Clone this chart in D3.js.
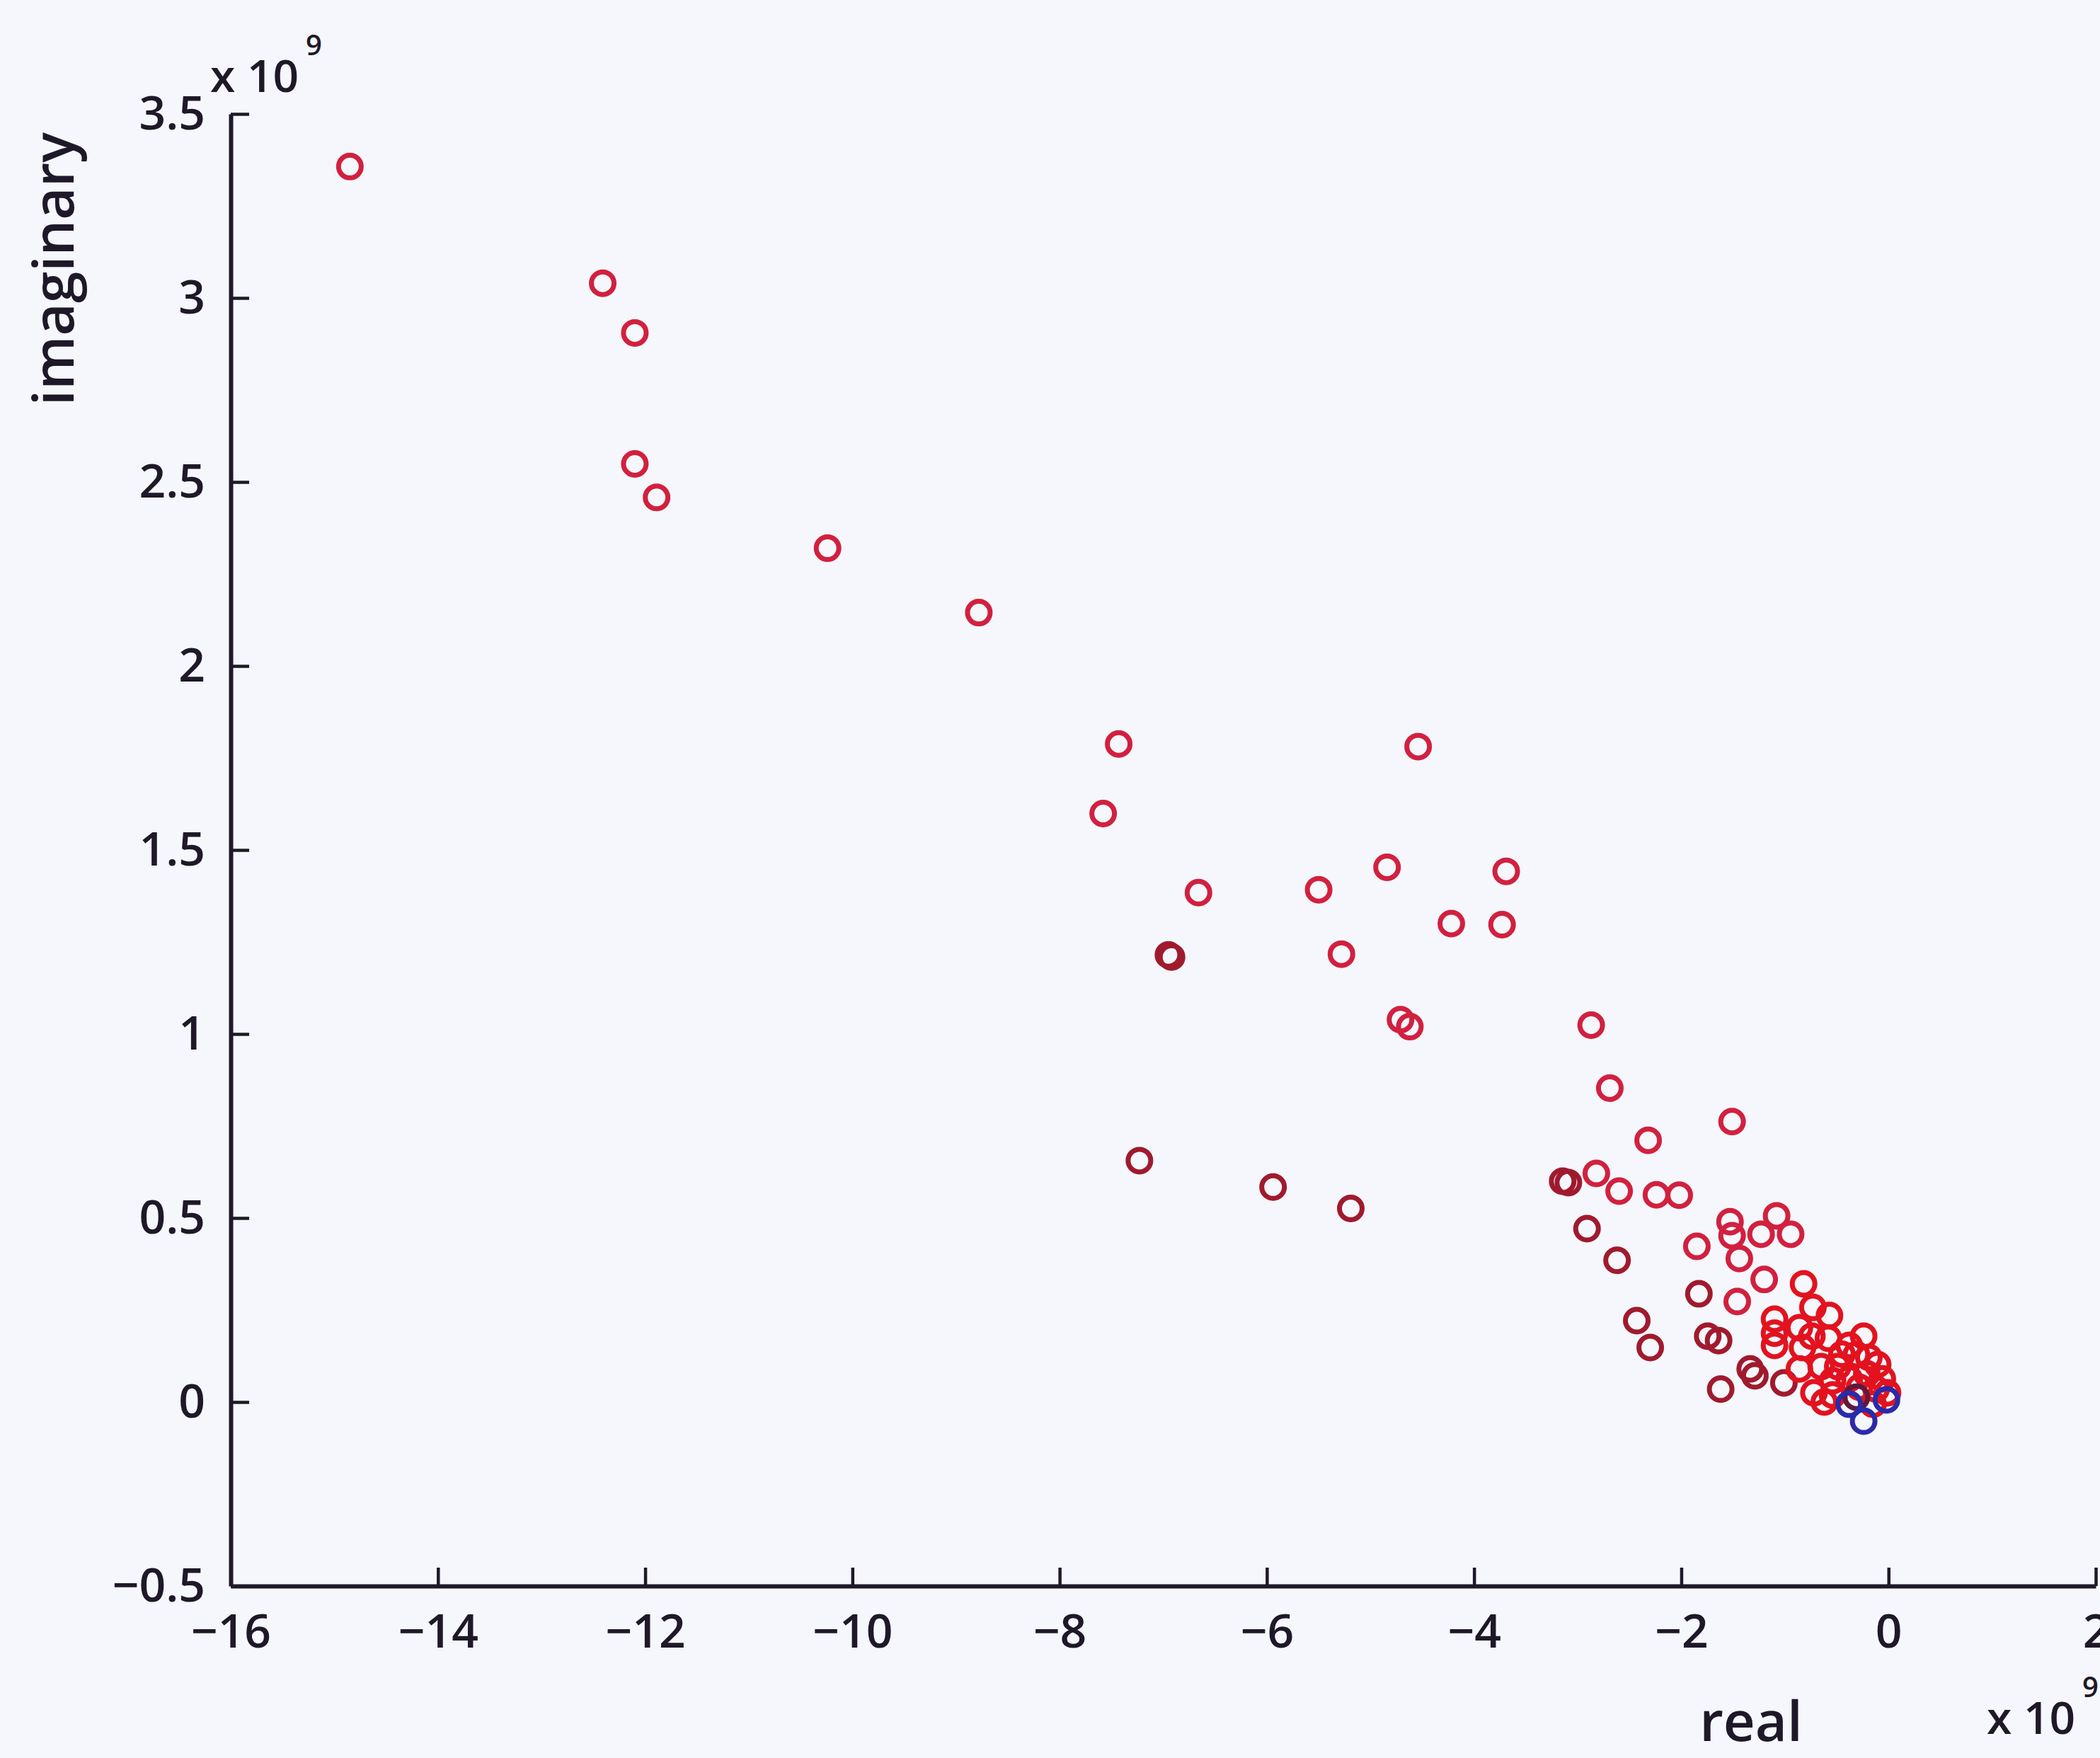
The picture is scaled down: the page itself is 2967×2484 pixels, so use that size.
<!DOCTYPE html>
<html><head><meta charset="utf-8">
<script src="https://cdn.jsdelivr.net/npm/d3@7"></script>
<style>html,body{margin:0;padding:0;background:#f5f7fc;} svg{display:block}</style>
</head><body>
<svg id="c" width="2967" height="2484"></svg>
<script>
// values in units of 1e9
const xTicks = [-16,-14,-12,-10,-8,-6,-4,-2,0,2];
const yTicks = [-0.5,0,0.5,1,1.5,2,2.5,3,3.5];

// group 1: darker maroon points
const realMaroon = [-6.95,-6.92,-7.23,-5.94,-5.19,-3.145,-3.09,-2.91,-2.62,-2.43,-2.30,-1.83,-1.745,-1.64,-1.62,-1.335,-1.01,-1.29];
const imagMaroon = [1.215,1.209,0.656,0.584,0.526,0.600,0.596,0.471,0.385,0.221,0.148,0.294,0.179,0.167,0.035,0.090,0.052,0.071];

// group 0: crimson points
const realCrimson = [-14.85,-12.41,-12.10,-12.10,-11.89,-10.24,-8.78,-7.43,-7.58,-4.54,-6.66,-5.50,-4.84,-3.69,-4.22,-3.73,-5.28,-4.71,-4.62,-2.87,-2.69,-1.51,-2.32,
  -2.82,-2.60,-2.24,-2.02,-1.85,-1.53,-1.51,-1.44,-1.23,-1.08,-0.945,-1.46,-1.20];
const imagCrimson = [3.357,3.040,2.905,2.549,2.458,2.320,2.145,1.788,1.599,1.781,1.384,1.392,1.453,1.442,1.300,1.297,1.217,1.039,1.020,1.024,0.853,0.762,0.711,
  0.621,0.573,0.563,0.562,0.423,0.490,0.452,0.390,0.456,0.506,0.456,0.273,0.333];

// group 2: bright red points near the origin
const realRed = [-0.82,-1.10,-1.10,-1.10,-0.73,-0.57,-0.86,-0.74,-0.58,-0.83,-0.24,-0.38,-0.19,-0.31,-0.105,-0.86,-0.65,-0.49,-0.54,-0.38,-0.21,-0.06,-0.72,-0.62,-0.54,-0.15,-0.01,-0.45,-0.28,-0.12];
const imagRed = [0.321,0.225,0.187,0.154,0.257,0.235,0.202,0.179,0.173,0.148,0.179,0.154,0.121,0.129,0.102,0.090,0.096,0.096,0.058,0.063,0.077,0.063,0.025,0.000,0.019,-0.006,0.025,0.130,0.040,0.035];

// group 3: dark purple point
const realDark = [-0.31];
const imagDark = [0.013];

// group 4: blue points
const realBlue = [-0.38,-0.24,-0.02];
const imagBlue = [-0.006,-0.052,0.006];

const palette = ["#d2203f","#a01a2e","#e3121f","#5e1a3c","#2a2aaa"];

const groups = [
  {re: realMaroon, im: imagMaroon, color: palette[1]},
  {re: realCrimson, im: imagCrimson, color: palette[0]},
  {re: realRed, im: imagRed, color: palette[2]},
  {re: realDark, im: imagDark, color: palette[3]},
  {re: realBlue, im: imagBlue, color: palette[4]}
];

const svg = d3.select("#c");
const x = d3.scaleLinear().domain([-16, 2]).range([326, 2961]);
const y = d3.scaleLinear().domain([-0.5, 3.5]).range([2241, 161]);

const fmt = d => d < 0 ? "\u2212" + Math.abs(d) : String(d);
const axisColor = "#1e1828";
const tickFont = "'Open Sans', 'DejaVu Sans', sans-serif";

// points
groups.forEach(g => {
  svg.append("g").selectAll("circle")
    .data(g.re.map((r, i) => [r, g.im[i]]))
    .join("circle")
    .attr("cx", d => x(d[0]))
    .attr("cy", d => y(d[1]))
    .attr("r", 16)
    .attr("fill", "none")
    .attr("stroke", g.color)
    .attr("stroke-width", 7);
});

// axes
const xAxis = d3.axisBottom(x).tickValues(xTicks).tickFormat(fmt)
  .tickSizeInner(-26).tickSizeOuter(0).tickPadding(40);
const yAxis = d3.axisLeft(y).tickValues(yTicks).tickFormat(fmt)
  .tickSizeInner(-26).tickSizeOuter(0).tickPadding(36);

const gx = svg.append("g").attr("transform", `translate(0,${y(-0.5)})`).call(xAxis);
const gy = svg.append("g").attr("transform", `translate(${x(-16)},0)`).call(yAxis);

[gx, gy].forEach(g => {
  g.select(".domain").attr("stroke", axisColor).attr("stroke-width", 6);
  g.selectAll(".tick line").attr("stroke", axisColor).attr("stroke-width", 4.5);
  g.selectAll(".tick text").attr("fill", axisColor)
    .style("font-family", tickFont).style("font-size", "66px").style("font-weight", "600");
});

// axis labels
svg.append("text")
  .attr("transform", `translate(104,380) rotate(-90)`)
  .attr("text-anchor", "middle")
  .style("font-family", tickFont).style("font-size", "80px").style("font-weight", "600")
  .attr("fill", axisColor)
  .text("imaginary");

svg.append("text")
  .attr("x", 2474).attr("y", 2460)
  .attr("text-anchor", "middle")
  .style("font-family", tickFont).style("font-size", "78px").style("font-weight", "600")
  .attr("fill", axisColor)
  .text("real");

// exponent labels
function expLabel(xp, yp) {
  const t = svg.append("text").attr("x", xp).attr("y", yp)
    .style("font-family", tickFont).style("font-size", "64px").style("font-weight", "600")
    .attr("fill", axisColor);
  t.append("tspan").text("x 10");
  t.append("tspan").attr("dy", -52).attr("dx", 10).style("font-size", "40px").text("9");
}
expLabel(297, 130);
expLabel(2807, 2450);
</script>
</body></html>
